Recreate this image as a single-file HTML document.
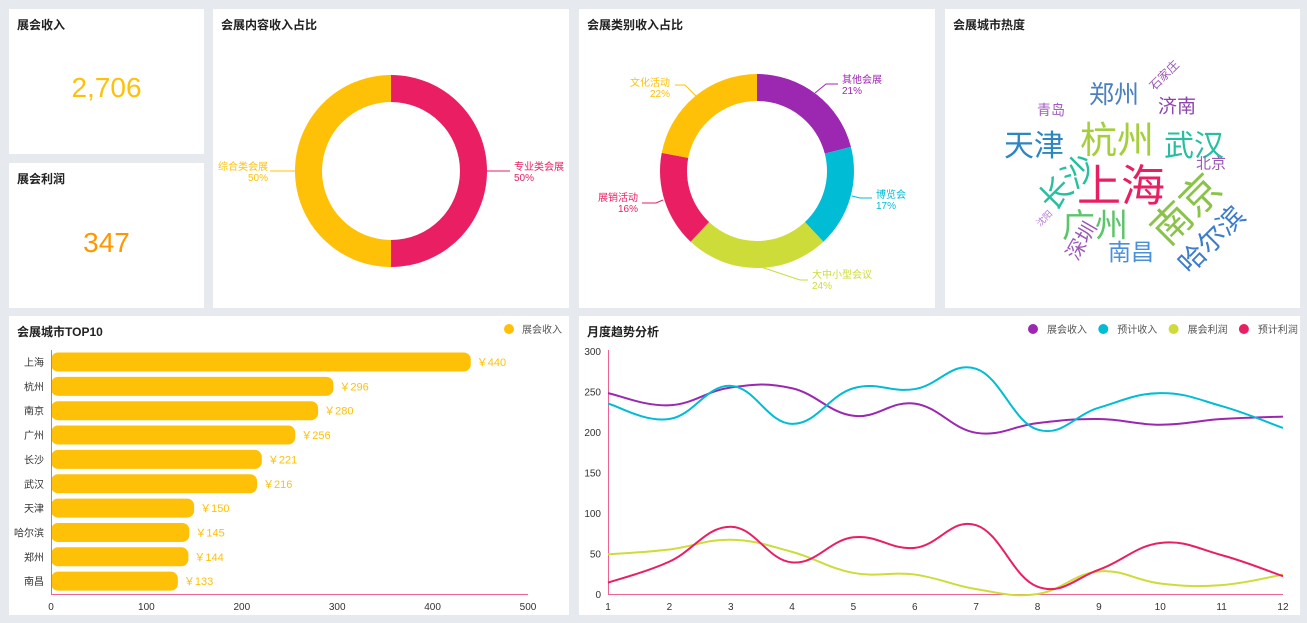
<!DOCTYPE html>
<html><head><meta charset="utf-8"><style>
body{margin:0;width:1307px;height:623px;background:#e6e9ed;font-family:"Liberation Sans","Noto Sans CJK SC",sans-serif;overflow:hidden;position:relative}
.p{position:absolute;background:#fff}
.t{position:absolute;left:8px;top:7px;font-size:12px;font-weight:bold;color:#222}
.k{position:absolute;left:0;right:0;text-align:center;font-size:28px}
svg{position:absolute;left:0;top:0}
</style></head><body>
<div class="p" style="left:9px;top:9px;width:195px;height:145px"><div class="t">展会收入</div><div class="k" style="top:63px;color:#ffc107">2,706</div></div>
<div class="p" style="left:9px;top:163px;width:195px;height:145px"><div class="t">展会利润</div><div class="k" style="top:64px;color:#ff9800">347</div></div>
<div class="p" style="left:213px;top:9px;width:356px;height:299px"><div class="t">会展内容收入占比</div></div>
<div class="p" style="left:579px;top:9px;width:356px;height:299px"><div class="t">会展类别收入占比</div></div>
<div class="p" style="left:945px;top:9px;width:355px;height:299px"><div class="t">会展城市热度</div></div>
<div class="p" style="left:9px;top:316px;width:560px;height:299px"><div class="t">会展城市TOP10</div></div>
<div class="p" style="left:579px;top:316px;width:721px;height:299px"><div class="t">月度趋势分析</div></div>
<svg width="1307" height="623" id="s" font-family="Liberation Sans, Noto Sans CJK SC, sans-serif"></svg>
<script>
var s=document.getElementById('s'),h='';
function arc(cx,cy,R,r,a0,a1,c){var f=a=>[Math.sin(a*Math.PI/180),-Math.cos(a*Math.PI/180)];var p0=f(a0),p1=f(a1),lg=(a1-a0)>180?1:0;
h+='<path fill="'+c+'" d="M'+(cx+R*p0[0])+' '+(cy+R*p0[1])+'A'+R+' '+R+' 0 '+lg+' 1 '+(cx+R*p1[0])+' '+(cy+R*p1[1])+'L'+(cx+r*p1[0])+' '+(cy+r*p1[1])+'A'+r+' '+r+' 0 '+lg+' 0 '+(cx+r*p0[0])+' '+(cy+r*p0[1])+'Z"/>';}
arc(391,171,96,69,0,180,'#e91e63');arc(391,171,96,69,180,359.99,'#ffc107');
h+='<path d="M487 171H510" stroke="#e91e63" fill="none"/><path d="M295 171H270" stroke="#ffc107" fill="none"/>';
h+='<text x="514" y="170" font-size="10" fill="#e91e63">专业类会展</text><text x="514" y="181" font-size="10" fill="#e91e63">50%</text>';
h+='<text x="268" y="170" font-size="10" fill="#ffc107" text-anchor="end">综合类会展</text><text x="268" y="181" font-size="10" fill="#ffc107" text-anchor="end">50%</text>';
var cs=[[21,'#9c27b0'],[17,'#00bcd4'],[24,'#cddc39'],[16,'#e91e63'],[22,'#ffc107']],a=0;
cs.forEach(c=>{var b=a+c[0]*3.6;arc(757,171,97,70,a,b,c[1]);a=b;});
h+='<path d="M815 93L826 84H838" stroke="#9c27b0" fill="none"/><text x="842" y="83" font-size="10" fill="#9c27b0">其他会展</text><text x="842" y="94" font-size="10" fill="#9c27b0">21%</text>';
h+='<path d="M852 196L860 198H872" stroke="#00bcd4" fill="none"/><text x="876" y="198" font-size="10" fill="#00bcd4">博览会</text><text x="876" y="209" font-size="10" fill="#00bcd4">17%</text>';
h+='<path d="M758 266L800 280H808" stroke="#cddc39" fill="none"/><text x="812" y="278" font-size="10" fill="#cddc39">大中小型会议</text><text x="812" y="289" font-size="10" fill="#cddc39">24%</text>';
h+='<path d="M663 200L656 203H642" stroke="#e91e63" fill="none"/><text x="638" y="201" font-size="10" fill="#e91e63" text-anchor="end">展销活动</text><text x="638" y="212" font-size="10" fill="#e91e63" text-anchor="end">16%</text>';
h+='<path d="M696 96L685 85H675" stroke="#ffc107" fill="none"/><text x="670" y="86" font-size="10" fill="#ffc107" text-anchor="end">文化活动</text><text x="670" y="97" font-size="10" fill="#ffc107" text-anchor="end">22%</text>';
var w=[['上海',1121,182,44,'#e91e63',0],['杭州',1117,137,37,'#a5cf3a',0],['天津',1034,143,30,'#2e86c1',0],['武汉',1194,143,30,'#26bfa0',0],['郑州',1114,93,25,'#4a7fc1',0],['济南',1177,105,19,'#8e44ad',0],['青岛',1051,110,14,'#a55bc0',0],['石家庄',1164,75,12,'#9b59b6',-45],['北京',1211,163,15,'#9b59b6',0],['长沙',1066,181,32,'#26c0a0',-45],['南京',1184,207,40,'#8bc34a',-45],['广州',1095,223,33,'#5cc46b',0],['深圳',1080,240,20,'#9b59b6',-60],['沈阳',1044,218,9,'#b57ad0',-45],['南昌',1131,250,23,'#4a90d9',0],['哈尔滨',1210,238,27,'#3d7dc8',-45]];
w.forEach(x=>{h+='<text x="'+x[1]+'" y="'+x[2]+'" font-size="'+x[3]+'" fill="'+x[4]+'" text-anchor="middle" dominant-baseline="central" transform="rotate('+x[5]+' '+x[1]+' '+x[2]+')" font-family="Noto Sans CJK SC, sans-serif">'+x[0]+'</text>';});
h+='<circle cx="509" cy="329" r="5" fill="#ffc107"/><text x="522" y="333" font-size="10" fill="#555">展会收入</text>';
var bc=[['上海',440],['杭州',296],['南京',280],['广州',256],['长沙',221],['武汉',216],['天津',150],['哈尔滨',145],['郑州',144],['南昌',133]];
bc.forEach((b,i)=>{var y=362+i*24.35,wd=b[1]*0.954;h+='<rect x="51" y="'+(y-9.5)+'" width="'+wd+'" height="19" rx="7" fill="#ffc107"/>';
h+='<text x="44" y="'+(y+4)+'" font-size="10" fill="#333" text-anchor="end">'+b[0]+'</text><text x="'+(51+wd+6)+'" y="'+(y+4)+'" font-size="11" fill="#ffc107">￥'+b[1]+'</text>';});
h+='<path d="M51.5 350V594.5H528" stroke="#f06292" fill="none"/>';
for(var i=0;i<=5;i++)h+='<text x="'+(51+i*95.4)+'" y="610" font-size="10" fill="#333" text-anchor="middle">'+i*100+'</text>';
h+='<path d="M608.5 350V594.5H1283" stroke="#f06292" fill="none"/>';
for(var i=0;i<=6;i++)h+='<text x="601" y="'+(598-i*40.5)+'" font-size="10" fill="#333" text-anchor="end">'+i*50+'</text>';
for(var i=1;i<=12;i++)h+='<text x="'+(608+(i-1)*61.36)+'" y="610" font-size="10" fill="#333" text-anchor="middle">'+i+'</text>';
var L=[['展会收入','#9c27b0',[248,233,255,254,220,235,199,211,216,209,216,219]],['预计收入','#00bcd4',[235,216,257,210,254,253,278,203,230,248,232,205]],['展会利润','#cddc39',[49,55,67,52,26,24,6,0,28,13,11,24]],['预计利润','#e91e63',[14,40,83,39,70,57,85,9,30,63,48,22]]];
L.forEach((l,k)=>{var p=l[2].map((v,i)=>[608+i*61.36,594-v*0.81]);var d='M'+p[0];
for(var i=0;i<p.length-1;i++){var p0=p[Math.max(0,i-1)],p1=p[i],p2=p[i+1],p3=p[Math.min(p.length-1,i+2)],t=0.2;
d+='C'+(p1[0]+(p2[0]-p0[0])*t)+' '+(p1[1]+(p2[1]-p0[1])*t)+' '+(p2[0]-(p3[0]-p1[0])*t)+' '+(p2[1]-(p3[1]-p1[1])*t)+' '+p2[0]+' '+p2[1];}
h+='<path d="'+d+'" stroke="'+l[1]+'" stroke-width="2" fill="none"/>';
var lx=1033+k*70.3;h+='<circle cx="'+lx+'" cy="329" r="5" fill="'+l[1]+'"/><text x="'+(lx+14)+'" y="333" font-size="10" fill="#555">'+l[0]+'</text>';});
s.innerHTML=h;
</script>
</body></html>
